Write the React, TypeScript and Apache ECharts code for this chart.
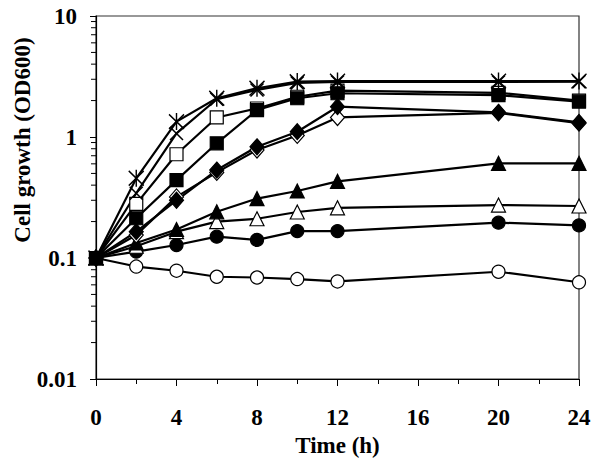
import React, { useEffect, useRef } from 'react';
import * as echarts from 'echarts';

const times = [0, 2, 4, 6, 8, 10, 12, 20, 24];
const openCircle = [0.1, 0.085, 0.0785, 0.07, 0.069, 0.067, 0.064, 0.077, 0.063];
const filledCircle = [0.1, 0.113, 0.128, 0.15, 0.141, 0.167, 0.167, 0.196, 0.186];
const openTriangle = [0.1, 0.125, 0.165, 0.2, 0.211, 0.24, 0.26, 0.274, 0.269];
const filledTriangle = [0.1, 0.133, 0.172, 0.241, 0.31, 0.358, 0.43, 0.606, 0.606];
const openDiamond = [0.1, 0.155, 0.32, 0.51, 0.78, 1.03, 1.45, 1.58, 1.3];
const filledDiamond = [0.1, 0.165, 0.3, 0.533, 0.83, 1.106, 1.78, 1.6, 1.32];
const openSquare = [0.1, 0.28, 0.72, 1.45, 1.72, 2.15, 2.42, 2.32, 2.0];
const filledSquare = [0.1, 0.213, 0.44, 0.887, 1.67, 2.09, 2.3, 2.22, 1.96];
const crossData = [0.1, 0.343, 1.07, 2.05, 2.45, 2.8, 2.85, 2.85, 2.87];
const starData = [0.1, 0.456, 1.34, 2.09, 2.53, 2.87, 2.9, 2.9, 2.9];

const yMinorTicks = [
  0.02, 0.03, 0.04, 0.05, 0.06, 0.07, 0.08, 0.09,
  0.2, 0.3, 0.4, 0.5, 0.6, 0.7, 0.8, 0.9,
  2, 3, 4, 5, 6, 7, 8, 9,
];

const FONT = '"Liberation Serif", "Times New Roman", serif';

const CROSS = 'path://M0,0L12,12M12,0L0,12';
const STAR = 'path://M0,1L12,13M12,1L0,13M6,0L6,14';

function pairs(vals: number[]) {
  return times.map((t, i) => [t, vals[i]]);
}

function lineSeries(vals: number[], symbol: string, size: number | number[], filled: boolean) {
  return {
    type: 'line',
    data: pairs(vals),
    symbol,
    symbolSize: size,
    showSymbol: true,
    lineStyle: { color: '#000', width: 2.2 },
    itemStyle: {
      color: filled ? '#000' : '#fff',
      borderColor: '#000',
      borderWidth: 1.2,
      opacity: 1,
    },
    emphasis: { disabled: true },
  };
}

export default function App() {
  const ref = useRef<HTMLDivElement>(null);

  useEffect(() => {
    if (!ref.current) return;
    const chart = echarts.init(ref.current, undefined, { renderer: 'svg' });
    chart.setOption({
      animation: false,
      backgroundColor: '#fff',
      grid: {
        left: 96,
        right: 21,
        top: 16,
        bottom: 85,
        show: true,
        borderColor: '#333',
        borderWidth: 1.2,
        containLabel: false,
      },
      xAxis: {
        type: 'value',
        min: 0,
        max: 24,
        interval: 4,
        name: 'Time (h)',
        nameLocation: 'middle',
        nameGap: 54,
        nameTextStyle: { fontFamily: FONT, fontWeight: 'bold', fontSize: 23, color: '#000' },
        axisLine: { show: true, lineStyle: { color: '#000', width: 1.2 } },
        axisTick: { show: true, inside: false, length: 7, lineStyle: { color: '#000', width: 1 } },
        minorTick: { show: true, splitNumber: 2, length: 5, lineStyle: { color: '#000', width: 1 } },
        splitLine: { show: false },
        minorSplitLine: { show: false },
        axisLabel: { fontFamily: FONT, fontWeight: 'bold', fontSize: 23, color: '#000', margin: 27 },
      },
      yAxis: {
        type: 'log',
        logBase: 10,
        min: 0.01,
        max: 10,
        axisLine: { show: true, lineStyle: { color: '#000', width: 1.2 } },
        axisTick: { show: true, inside: false, length: 6, lineStyle: { color: '#000', width: 1 } },
        splitLine: { show: false },
        axisLabel: { fontFamily: FONT, fontWeight: 'bold', fontSize: 23, color: '#000', margin: 19 },
      },
      graphic: [
        {
          type: 'text',
          x: 22,
          y: 140,
          rotation: Math.PI / 2,
          style: {
            text: 'Cell growth (OD600)',
            font: 'bold 23px "Liberation Serif", serif',
            fill: '#000',
            align: 'center',
            verticalAlign: 'middle',
          },
        },
      ],
      series: [
        {
          type: 'custom',
          silent: true,
          clip: false,
          z: 5,
          data: yMinorTicks.map((v) => [0, v]),
          renderItem: (params: any, api: any) => {
            const p = api.coord([api.value(0), api.value(1)]);
            return {
              type: 'line',
              shape: { x1: p[0] - 5, y1: p[1], x2: p[0], y2: p[1] },
              style: { stroke: '#000', lineWidth: 1 },
            };
          },
        },
        lineSeries(openCircle, 'circle', 13, false),
        lineSeries(filledCircle, 'circle', 13, true),
        lineSeries(openTriangle, 'triangle', 14, false),
        lineSeries(filledTriangle, 'triangle', 14, true),
        lineSeries(openDiamond, 'diamond', [14, 16], false),
        lineSeries(filledDiamond, 'diamond', [14, 16], true),
        lineSeries(openSquare, 'rect', 13, false),
        lineSeries(filledSquare, 'rect', 13, true),
        {
          ...lineSeries(crossData, CROSS, 13, false),
          itemStyle: { color: 'none', borderColor: '#000', borderWidth: 1.5 },
        },
        {
          ...lineSeries(starData, STAR, [15, 17], false),
          itemStyle: { color: 'none', borderColor: '#000', borderWidth: 1.5 },
        },
      ],
    });
    return () => chart.dispose();
  }, []);

  return (
    <div
      ref={ref}
      style={{ position: 'absolute', left: 0, top: 0, width: 600, height: 464, background: '#fff' }}
    />
  );
}
